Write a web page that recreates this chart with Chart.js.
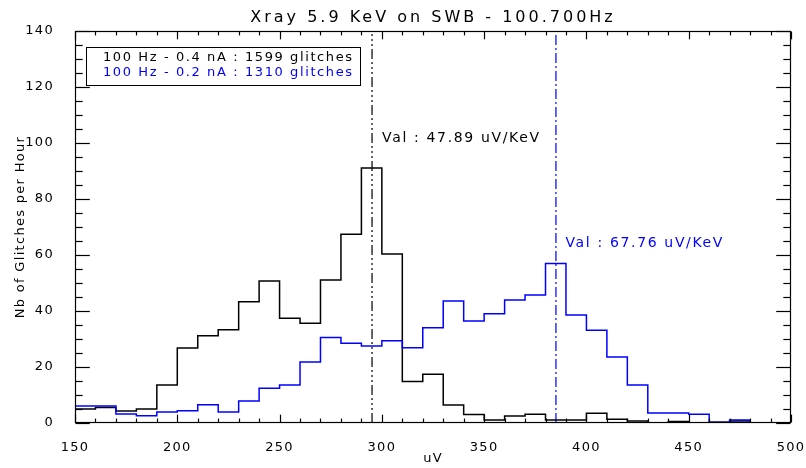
<!DOCTYPE html>
<html><head><meta charset="utf-8">
<script src="https://cdn.jsdelivr.net/npm/chart.js@4/dist/chart.umd.min.js"></script>
<style>html,body{margin:0;padding:0;background:#fff}</style>
</head><body>
<canvas id="c" width="806" height="468"></canvas>
<script>
// ---- data ----
const binEdges = [150,160,170,180,190,200,210,220,230,240,250,260,270,280,290,300,310,320,330,340,350,360,370,380,390,400,410,420,430,440,450,460,470,480,490];
const upperEdge = 500;
const counts04nA = [5.0,5.5,4.3,5.0,13.6,26.8,31.2,33.3,43.3,50.7,37.4,35.6,51.1,67.4,91.1,60.4,14.8,17.4,6.4,3.0,1.1,2.5,3.1,1.1,1.1,3.5,1.3,0.7,0,0.5,0,0.3,0.7,0,0];
const counts02nA = [6.1,6.1,3.2,2.6,3.9,4.4,6.5,3.9,7.9,12.4,13.6,21.8,30.5,28.5,27.5,29.4,26.9,34.0,43.6,36.4,39.0,43.9,45.7,57.0,38.6,33.1,23.6,13.6,3.6,3.6,3.1,0.3,1.1,0,0];
const seriesLabels = ['100 Hz - 0.4 nA : 1599 glitches', '100 Hz - 0.2 nA : 1310 glitches'];
const valLines = [295.2, 385.1];
const valTexts = ['Val : 47.89 uV/KeV', 'Val : 67.76 uV/KeV'];
const xTickLabels = [150,200,250,300,350,400,450,500];
const yTickLabels = [0,20,40,60,80,100,120,140];
const titleText = 'Xray 5.9 KeV on SWB - 100.700Hz';
const xTitle = 'uV';
const yTitle = 'Nb of Glitches per Hour';

// ---- helpers ----
const FONT = "'DejaVu Sans', sans-serif";
const BLACK = '#000000', BLUE = '#0000ff';
function histPoints(vals){
  const pts = binEdges.map((e,i)=>({x:e, y:vals[i]}));
  pts.push({x:upperEdge, y:vals[vals.length-1]});
  return pts;
}
function vline(v){ return [{x:v,y:yTickLabels[0]},{x:v,y:yTickLabels[yTickLabels.length-1]}]; }
function seg(ctx,x1,y1,x2,y2){ ctx.beginPath(); ctx.moveTo(x1,y1); ctx.lineTo(x2,y2); ctx.stroke(); }
function drawFrame(chart){
  const {ctx, chartArea:a, scales:{x,y}} = chart;
  ctx.save();
  ctx.strokeStyle = BLACK; ctx.lineWidth = 1.2; ctx.setLineDash([]);
  const L=Math.round(a.left)+0.5, R=Math.round(a.right)-0.5, T=Math.round(a.top)+0.5, B=Math.round(a.bottom)-0.5;
  ctx.strokeRect(L, T, R-L, B-T);
  const h = B-T, w = R-L;
  x.ticks.forEach(t=>{
    const v=t.value, px=Math.round(x.getPixelForValue(v))+0.5;
    const len=(xTickLabels.includes(v)?0.02:0.01)*h;
    seg(ctx,px,B,px,B-len);
    seg(ctx,px,T,px,T+len);
  });
  y.ticks.forEach(t=>{
    const v=t.value, py=Math.round(y.getPixelForValue(v))+0.5;
    const len=(yTickLabels.includes(v)?0.02:0.01)*w;
    seg(ctx,L,py,L+len,py);
    seg(ctx,R,py,R-len,py);
  });
  ctx.restore();
}

const idlPlugin = {
  id:'idl',
  beforeDraw(chart){ chart.ctx.letterSpacing = '1.3px'; },
  afterDraw(chart){
    const {ctx, chartArea:a, scales:{x,y}} = chart;
    drawFrame(chart);
    ctx.save();
    // title
    ctx.letterSpacing='3px';
    ctx.font = '16px '+FONT; ctx.fillStyle=BLACK; ctx.textAlign='center'; ctx.textBaseline='middle';
    ctx.fillText(titleText, (a.left+a.right)/2, 17.5);
    // legend box
    ctx.strokeStyle=BLACK; ctx.lineWidth=1;
    ctx.strokeRect(a.left+11.5, a.top+16.5, 274, 38);
    ctx.letterSpacing='1.6px';
    ctx.font='13px '+FONT; ctx.textAlign='left';
    ctx.fillStyle=BLACK; ctx.fillText(seriesLabels[0], a.left+28, a.top+26.5);
    ctx.fillStyle=BLUE; ctx.fillText(seriesLabels[1], a.left+28, a.top+42);
    // annotations
    ctx.letterSpacing='1.65px';
    ctx.font='14px '+FONT;
    ctx.fillStyle=BLACK; ctx.fillText(valTexts[0], x.getPixelForValue(valLines[0])+10, y.getPixelForValue(101.5));
    ctx.fillStyle=BLUE; ctx.fillText(valTexts[1], x.getPixelForValue(valLines[1])+9.5, y.getPixelForValue(64.3));
    ctx.restore();
  }
};

new Chart(document.getElementById('c'), {
  type:'line',
  data:{ datasets:[
    {data:histPoints(counts02nA), borderColor:BLUE, borderWidth:1.5, stepped:true, pointRadius:0, fill:false, order:0},
    {data:histPoints(counts04nA), borderColor:BLACK, borderWidth:1.5, stepped:true, pointRadius:0, fill:false, order:1},
    {data:vline(valLines[0]), borderColor:BLACK, borderWidth:1.2, borderDash:[10,3,2,3,2,3,2,3], pointRadius:0, order:2},
    {data:vline(valLines[1]), borderColor:BLUE, borderWidth:1.2, borderDash:[10,3,2,3], pointRadius:0, order:2}
  ]},
  options:{
    responsive:false, animation:false, devicePixelRatio:1,
    layout:{padding:{top:31, right:15, left:0, bottom:0}},
    plugins:{legend:{display:false}, tooltip:{enabled:false}, title:{display:false}},
    elements:{line:{tension:0}},
    scales:{
      x:{type:'linear', min:xTickLabels[0], max:xTickLabels[xTickLabels.length-1],
         grid:{display:false}, border:{display:false},
         ticks:{stepSize:10, autoSkip:false, maxRotation:0, maxTicksLimit:100, padding:9, color:BLACK,
                font:{family:FONT, size:13},
                callback:v=>xTickLabels.includes(v)?String(v):''},
         title:{display:true, text:xTitle, color:BLACK, font:{family:FONT, size:13}, padding:{top:0,bottom:2}},
         afterFit:s=>{s.height=45; s.paddingRight=0; s.paddingLeft=0;}},
      y:{type:'linear', min:yTickLabels[0], max:yTickLabels[yTickLabels.length-1],
         grid:{display:false}, border:{display:false},
         ticks:{stepSize:5, autoSkip:false, maxTicksLimit:100, padding:13, color:BLACK,
                font:{family:FONT, size:13},
                callback:v=>yTickLabels.includes(v)?String(v):''},
         title:{display:true, text:yTitle, color:BLACK, font:{family:FONT, size:13}, padding:{top:13,bottom:0}},
         afterFit:s=>{s.width=75; s.paddingTop=0; s.paddingBottom=0;}}
    }
  },
  plugins:[idlPlugin]
});
</script>
</body></html>
